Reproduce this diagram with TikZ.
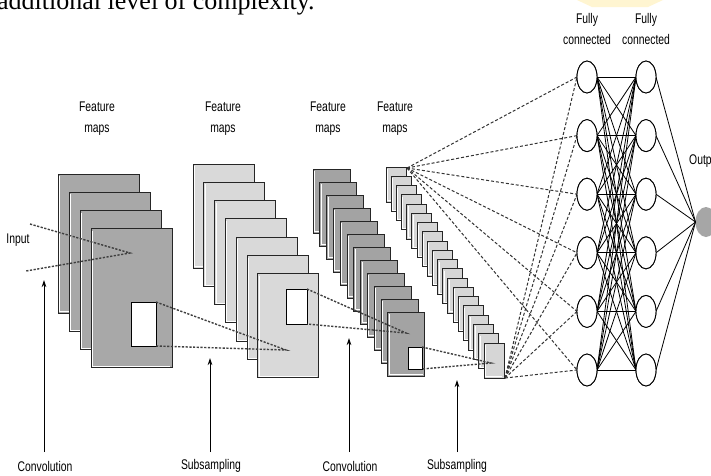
\documentclass[tikz,border=0pt]{standalone}
\usepackage{fontspec}
\setmainfont{Liberation Serif}
\newfontfamily\narrowsf[FakeStretch=0.74]{Liberation Sans}
\usetikzlibrary{arrows.meta,shapes.geometric}
\begin{document}
\begin{tikzpicture}[x=1pt,y=-1pt,
  mapbase/.style={draw=black!85, line width=0.9pt, anchor=north west, inner sep=0pt, outer sep=0pt,
    path picture={\draw[white, line width=0.7pt]
      ([xshift=1.3pt,yshift=-2pt]path picture bounding box.north west) --
      ([xshift=1.3pt,yshift=1.3pt]path picture bounding box.south west) --
      ([xshift=-2pt,yshift=1.3pt]path picture bounding box.south east);}},
  mapA/.style={mapbase, fill=black!34, minimum width=81pt, minimum height=139pt},
  mapB/.style={mapbase, fill=black!15, minimum width=61pt, minimum height=104pt},
  mapC/.style={mapbase, fill=black!36, minimum width=37pt, minimum height=64pt},
  mapD/.style={mapbase, fill=black!16, minimum width=20pt, minimum height=35pt},
  sqr/.style={draw=black, line width=0.9pt, fill=white, anchor=north west, inner sep=0pt, outer sep=0pt},
  dsh/.style={draw=black!75, line width=1.4pt, dash pattern=on 2.2pt off 1.5pt},
  fcdsh/.style={draw=black!80, line width=1pt, dash pattern=on 3pt off 2pt},
  fc/.style={draw=black, line width=0.8pt},
  neuron/.style={ellipse, draw=black, line width=0.9pt, fill=white, minimum width=20pt, minimum height=32pt, inner sep=0pt, outer sep=0pt},
  outn/.style={ellipse, fill=black!35, minimum width=21pt, minimum height=30pt, inner sep=0pt, outer sep=0pt},
  arr/.style={draw=black, line width=0.8pt, -{Stealth[length=7pt,width=4.5pt]}},
  lbl/.style={font=\narrowsf\fontsize{14}{21}\selectfont, align=center, inner sep=0pt}
]
\useasboundingbox (0,0) rectangle (711,475);
\fill[white] (0,0) rectangle (711,475);
\clip (0,0) rectangle (711,475);

% clipped paper text and watermark
\node[anchor=base west, inner sep=0pt, font=\fontsize{26}{26}\selectfont] (paper) at (-3,9) {additional level of complexity.};
\fill[orange!40!yellow, opacity=0.18] (577,0) -- (663,0) -- (648,7) -- (592,7) -- cycle;

% titles
\node[lbl] (t1) at (97,119) {Feature\\maps};
\node[lbl] (t2) at (223,119) {Feature\\maps};
\node[lbl] (t3) at (328,119) {Feature\\maps};
\node[lbl] (t4) at (395,119) {Feature\\maps};
\node[lbl] (t5) at (587,29) {Fully\\connected};
\node[lbl] (t6) at (646,29) {Fully\\connected};
\node[lbl, anchor=west] (outlbl) at (689,161) {Outp};
\node[lbl] (inlbl) at (18,240) {Input};

% stacks
\foreach \i in {0,...,3} {\node[mapA] (s1m\i) at ({58+11*\i},{174+18.3*\i}) {};}
\node[sqr, minimum width=25pt, minimum height=44pt] (sq1) at (131,302) {};
\foreach \i in {0,...,6} {\node[mapB] (s2m\i) at ({193+10.8*\i},{164+18.3*\i}) {};}
\node[sqr, minimum width=21pt, minimum height=35pt] (sq2) at (286,289) {};
\foreach \i in {0,...,11} {\node[mapC] (s3m\i) at ({313+6.8*\i},{169+13*\i}) {};}
\node[sqr, minimum width=14pt, minimum height=22pt] (sq3) at (408,347) {};
\foreach \i in {0,...,19} {\node[mapD] (s4m\i) at ({386+5.16*\i},{167+9.26*\i}) {};}

% convergence points
\coordinate (in1) at (30,224);
\coordinate (in2) at (26,271);
\coordinate (c1) at (130,253);
\coordinate (c2) at (286,350);
\coordinate (c3) at (406,333);
\coordinate (c4) at (491,363);
\coordinate (top4) at (407,168);
\coordinate (bot4) at (505,378);

\draw[dsh] (in1) -- (c1) -- (in2);
\draw[dsh] (sq1.north east) -- (c2) -- (sq1.south east);
\draw[dsh] (sq2.north east) -- (c3) -- (sq2.south east);
\draw[dsh] (sq3.north east) -- (c4) -- (sq3.south east);

% fully connected layers
\foreach \y [count=\n] in {77,135.6,194.2,252.8,311.4,370} {
  \node[neuron] (f\n) at (587,\y) {};
  \node[neuron] (g\n) at (646,\y) {};
}
\node[outn] (out) at (706,222) {};

\foreach \i in {1,...,6} {
  \draw[fcdsh] (top4) -- (f\i.west);
  \draw[fcdsh] (bot4) -- (f\i.west);
  \draw[fc] (g\i.east) -- (out.west);
  \foreach \j in {1,...,6} {\draw[fc] (f\i.east) -- (g\j.west);}
}
\foreach \i in {1,...,6} {
  \node[neuron] at (f\i) {};
  \node[neuron] at (g\i) {};
}

% arrows and bottom labels
\node[lbl] (b1) at (45,466) {Convolution};
\node[lbl] (b2) at (211,466) {Subsampling};
\node[lbl] (b3) at (350,466) {Convolution};
\node[lbl] (b4) at (457,466) {Subsampling};
\coordinate (a1b) at (44,452); \coordinate (a1t) at (44,280);
\coordinate (a2b) at (210,452); \coordinate (a2t) at (210,358);
\coordinate (a3b) at (349,452); \coordinate (a3t) at (349,338);
\coordinate (a4b) at (457,452); \coordinate (a4t) at (457,380);
\draw[arr] (a1b) -- (a1t);
\draw[arr] (a2b) -- (a2t);
\draw[arr] (a3b) -- (a3t);
\draw[arr] (a4b) -- (a4t);
\end{tikzpicture}
\end{document}
